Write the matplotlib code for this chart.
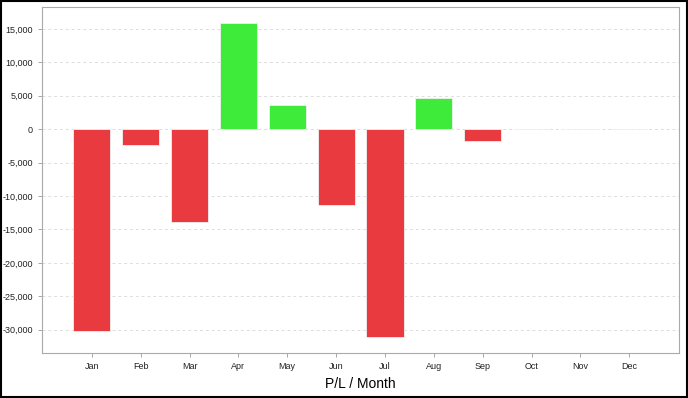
import numpy as np
import matplotlib.pyplot as plt
from matplotlib.patches import Rectangle
from matplotlib.ticker import FuncFormatter

months = ['Jan', 'Feb', 'Mar', 'Apr', 'May', 'Jun', 'Jul', 'Aug', 'Sep', 'Oct', 'Nov', 'Dec']
pl = [-30200, -2400, -13900, 15900, 3550, -11400, -31100, 4630, -1800, 0, 0, 0]
yticks = [15000, 10000, 5000, 0, -5000, -10000, -15000, -20000, -25000, -30000]

red = '#e93a3f'
green = '#3eeb3a'

plt.rcParams['font.family'] = ['Liberation Sans', 'DejaVu Sans']
fig = plt.figure(figsize=(6.88, 3.98), dpi=100)
ax = fig.add_axes([0.061, 0.113, 0.926, 0.869])

x = np.arange(len(months))
colors = [green if v > 0 else red for v in pl]
ax.bar(x, pl, width=0.76, color=colors, edgecolor='#f0f0f0', linewidth=0.6, zorder=3)

ax.set_xlim(-1.02, 12.02)
ax.set_ylim(-33480, 18240)
ax.set_xticks(x)
ax.set_xticklabels(months)
ax.set_yticks(yticks)
ax.yaxis.set_major_formatter(FuncFormatter(lambda v, p: '{:,}'.format(int(v))))
ax.tick_params(labelsize=6.5, colors='#222222', length=3, width=0.6)
ax.tick_params(axis='both', color='#999999')
ax.grid(axis='y', color='#dddddd', linestyle=(0, (3, 3)), linewidth=0.7, zorder=0)
for s in ax.spines.values():
    s.set_color('#aaaaaa')
    s.set_linewidth(0.8)
ax.set_xlabel('P/L / Month', fontsize=10, labelpad=4)

fig.patches.append(Rectangle((0.001, 0.002), 0.997, 0.996, transform=fig.transFigure,
                             fill=False, edgecolor='black', linewidth=1.5))

plt.savefig('out.png', dpi=100)
